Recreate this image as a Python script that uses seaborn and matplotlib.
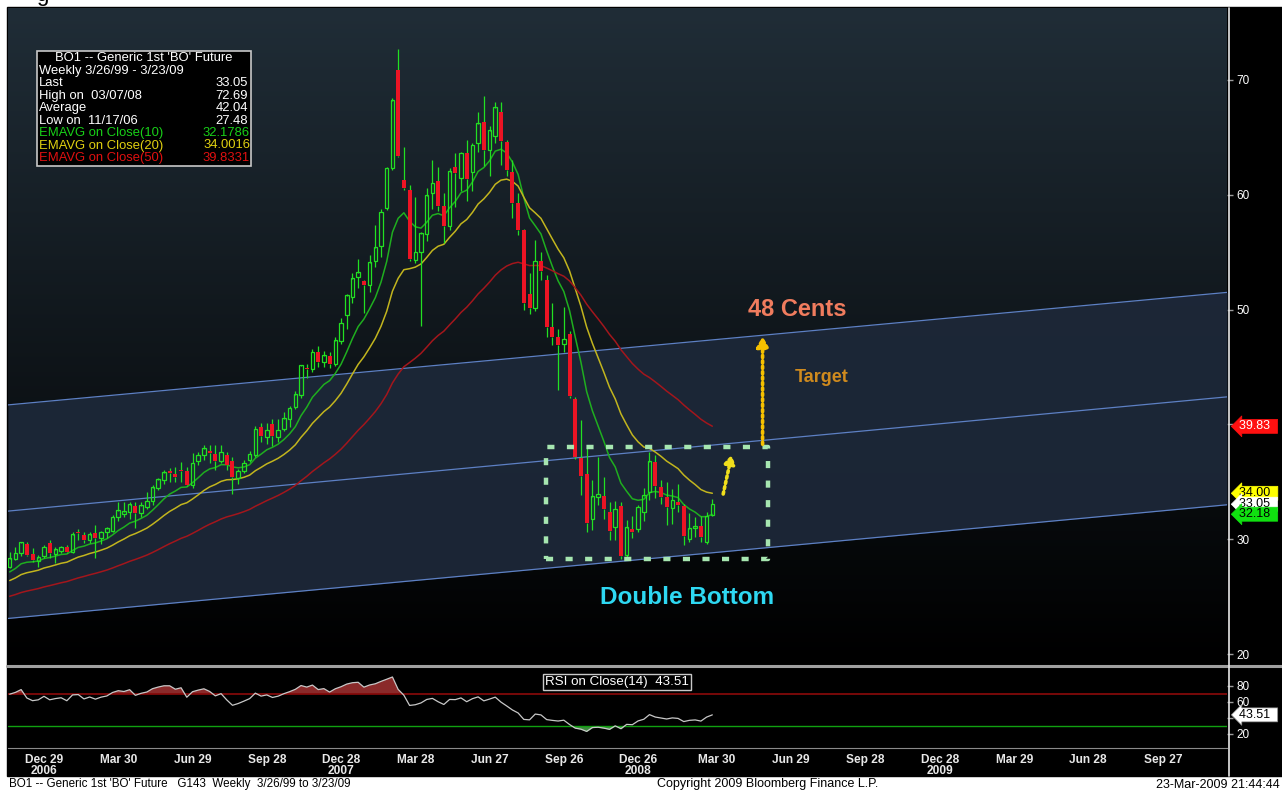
import numpy as np
import pandas as pd
import matplotlib
matplotlib.use("Agg")
import matplotlib.pyplot as plt
import matplotlib.transforms as mtransforms
from matplotlib.patches import Rectangle
from matplotlib.lines import Line2D
from matplotlib.colors import LinearSegmentedColormap
import seaborn as sns

# ---------------- data (weekly BO1 candles) ----------------
opens = [27.6, 28.3, 28.8, 29.6, 28.7, 28.1, 28.5, 29.7, 28.7, 29.0,
         29.3, 28.9, 30.6, 30.4, 29.9, 30.5, 30.1, 30.6, 30.7, 31.9,
         32.2, 32.4, 32.9, 32.3, 32.8, 33.3, 34.5, 35.2, 35.9, 35.7,
         36.05, 35.9, 34.7, 36.8, 37.3, 37.7, 37.4, 36.8, 37.3, 36.8,
         35.3, 35.9, 36.9, 37.3, 39.8, 38.9, 40.0, 38.9, 39.6, 40.5,
         41.5, 42.6, 44.9, 44.8, 46.3, 45.4, 46.0, 45.3, 47.3, 49.5,
         51.1, 52.8, 52.5, 52.1, 54.2, 55.5, 58.85, 62.3, 70.9, 61.3,
         60.4, 54.3, 55.0, 56.6, 60.2, 61.2, 59.0, 57.3, 62.4, 61.5,
         63.6, 62.0, 64.5, 66.3, 63.9, 65.1, 67.2, 64.6, 62.0, 59.3,
         56.9, 51.4, 50.1, 54.2, 52.6, 48.5, 47.6, 47.0, 47.9, 42.2,
         37.1, 35.7, 31.8, 33.7, 33.8, 32.4, 31.1, 32.9, 28.6, 30.9,
         30.9, 32.4, 34.1, 36.75, 34.55, 33.7, 32.7, 33.2, 32.9, 30.0,
         31.0, 31.15, 29.8, 32.1]
highs = [28.9, 29.3, 29.8, 29.8, 29.2, 28.6, 29.5, 29.9, 29.3, 29.4,
         29.5, 30.6, 30.9, 30.6, 30.6, 31.2, 30.7, 31.1, 32.1, 33.2,
         33.2, 33.2, 33.2, 33.2, 34.1, 34.7, 35.3, 36.0, 36.2, 36.3,
         36.75, 36.3, 37.5, 37.6, 38.2, 38.2, 38.2, 38.2, 37.6, 37.2,
         36.1, 36.9, 37.7, 39.9, 40.1, 40.1, 40.5, 40.5, 41.1, 41.6,
         42.9, 45.2, 45.3, 46.6, 46.8, 46.4, 46.3, 47.6, 49.3, 51.4,
         53.2, 54.4, 52.6, 54.8, 57.4, 58.8, 62.4, 68.4, 72.69, 64.2,
         60.85, 59.8, 56.8, 60.6, 63.0, 62.4, 60.2, 62.3, 63.6, 63.7,
         64.8, 64.5, 67.2, 68.6, 66.0, 68.1, 68.1, 64.8, 63.0, 60.2,
         57.0, 53.2, 56.1, 55.0, 53.0, 50.6, 48.3, 50.25, 48.1, 42.4,
         40.4, 38.1, 35.2, 37.2, 35.4, 33.2, 33.3, 33.2, 31.7, 32.0,
         33.0, 34.5, 37.6, 37.3, 35.2, 35.0, 34.4, 34.8, 33.1, 32.3,
         31.9, 32.0, 32.4, 33.5]
lows = [27.48, 28.2, 28.5, 28.5, 28.0, 27.6, 28.4, 28.4, 27.9, 28.8,
        28.8, 28.8, 29.9, 29.7, 29.7, 28.4, 29.6, 30.1, 30.6, 31.6,
        31.9, 31.8, 31.0, 31.9, 32.6, 33.0, 34.3, 34.8, 35.0, 35.0,
        35.0, 34.6, 34.5, 36.5, 36.9, 36.6, 36.0, 36.6, 36.0, 33.9,
        34.8, 35.8, 36.7, 37.2, 38.5, 38.3, 38.1, 38.5, 39.4, 39.8,
        41.3, 42.3, 44.0, 44.6, 45.0, 45.0, 44.9, 45.1, 47.0, 48.3,
        50.6, 51.9, 49.7, 51.5, 53.7, 54.6, 58.7, 62.2, 63.3, 60.4,
        54.2, 54.1, 48.6, 56.0, 58.8, 58.6, 55.8, 56.9, 58.9, 60.3,
        59.5, 60.3, 63.7, 62.5, 61.6, 64.5, 62.6, 61.6, 58.0, 56.5,
        50.0, 49.6, 49.9, 52.6, 47.6, 46.9, 43.0, 46.3, 42.3, 37.0,
        33.85, 30.6, 30.8, 33.0, 31.8, 29.9, 29.9, 28.3, 28.2, 30.1,
        30.6, 31.6, 33.4, 33.6, 33.1, 31.2, 31.3, 32.4, 29.5, 29.8,
        30.2, 29.8, 29.6, 32.0]
closes = [28.3, 28.8, 29.7, 28.6, 28.2, 28.4, 29.3, 28.8, 29.1, 29.3,
          28.9, 30.4, 30.5, 29.9, 30.4, 30.1, 30.6, 30.9, 31.9, 32.5,
          32.4, 33.0, 32.3, 32.9, 33.3, 34.5, 35.2, 35.8, 35.8, 35.4,
          35.95, 34.7, 36.6, 37.3, 37.9, 37.5, 36.8, 37.6, 36.5, 35.4,
          35.9, 36.6, 37.4, 39.6, 39.0, 39.5, 39.0, 39.5, 40.5, 41.4,
          42.6, 45.1, 44.8, 46.3, 45.4, 46.0, 45.3, 47.3, 48.8, 51.2,
          52.7, 53.2, 52.1, 54.1, 55.4, 58.5, 62.3, 68.2, 63.4, 60.6,
          54.4, 55.0, 56.6, 59.9, 61.0, 59.0, 57.3, 62.0, 61.9, 63.6,
          61.4, 64.3, 66.2, 63.9, 65.6, 67.6, 64.7, 62.2, 59.3, 56.9,
          50.6, 50.1, 54.2, 53.4, 48.5, 47.6, 46.9, 47.4, 42.5, 37.2,
          35.5, 31.4, 33.7, 33.9, 32.6, 30.7, 32.6, 28.5, 31.0, 30.6,
          32.8, 33.8, 36.75, 34.6, 33.7, 32.8, 33.4, 33.0, 30.3, 30.9,
          31.1, 30.2, 32.0, 33.05]

# indicator starting levels at the left edge of the chart
ema_spans = [10, 20, 50]
ema_start = [26.9, 26.2, 24.9]
rsi_start_gain = 0.34
rsi_start_loss = 0.15

# straight channel lines (two anchor points each)
channel_x = [-0.3, 213.1]
channel_upper = [41.7, 51.5]
channel_mid = [32.45, 42.4]
channel_lower = [23.1, 33.0]

# double-bottom box and target
box_weeks = [93.8, 132.8]
box_prices = [28.28, 38.03]
target_price = 47.9

x_tick_pos = [6, 19, 32, 45, 58, 71, 84, 97, 110, 123.7, 136.7, 149.8, 162.9, 175.9, 188.8, 201.9]
x_tick_labels = ["Dec 29\n2006", "Mar 30", "Jun 29", "Sep 28", "Dec 28\n2007", "Mar 28",
                 "Jun 27", "Sep 26", "Dec 26\n2008", "Mar 30", "Jun 29", "Sep 28",
                 "Dec 28\n2009", "Mar 29", "Jun 28", "Sep 27"]

legend_rows = [("Last", "33.05"), ("High on  03/07/08", "72.69"),
               ("Average", "42.04"), ("Low on  11/17/06", "27.48")]
ema_labels = ["EMAVG on Close(10)", "EMAVG on Close(20)", "EMAVG on Close(50)"]
ema_values = ["32.1786", "34.0016", "39.8331"]

# ---------------- derived indicators ----------------
df = pd.DataFrame({"week": np.arange(len(closes)), "open": opens, "high": highs,
                   "low": lows, "close": closes})

for span, start in zip(ema_spans, ema_start):
    a = 2.0 / (span + 1)
    prev = start
    vals = []
    for c in df["close"]:
        prev = a * c + (1 - a) * prev
        vals.append(prev)
    df[f"ema{span}"] = vals

g, l = rsi_start_gain, rsi_start_loss
rsi = []
prev_c = df["close"].iloc[0]
for i, c in enumerate(df["close"]):
    if i > 0:
        ch = c - prev_c
        g = (g * 13 + max(ch, 0)) / 14
        l = (l * 13 + max(-ch, 0)) / 14
    prev_c = c
    rsi.append(100 - 100 / (1 + g / l))
df["rsi"] = rsi

# ---------------- figure ----------------
W, H = 1282, 791
sns.set_style("dark")
plt.rcParams["font.family"] = ["Liberation Sans", "DejaVu Sans"]

fig = plt.figure(figsize=(W / 100, H / 100), dpi=100, facecolor="white")


def fx(px):
    return px / W


def fy(py):
    return 1 - py / H


# black terminal panel
fig.add_artist(Rectangle((fx(7), fy(776)), 1 - fx(7), (776 - 7) / H,
                         transform=fig.transFigure, color="black", zorder=-10))
fig.text(fx(36), fy(1), "g", fontsize=16, va="baseline", color="black")

ax = fig.add_axes([fx(8), fy(663), (1227 - 8) / W, (663 - 8) / H])
rx = fig.add_axes([fx(8), fy(748), (1227 - 8) / W, (748 - 668) / H], sharex=ax)

XMIN, XMAX = -0.3, 213.1
YMIN, YMAX = 19.22, 76.27

# background gradient
cmap = LinearSegmentedColormap.from_list("bg", ["#000000", "#202d37"])
grad = np.linspace(0, 1, 256).reshape(-1, 1)
ax.imshow(grad, extent=[0, 1, 0, 1], transform=ax.transAxes, aspect="auto",
          cmap=cmap, origin="lower", zorder=0)
ax.set_facecolor("black")

# channel
ax.fill_between(channel_x, channel_lower, channel_upper, color="#1d2839",
                alpha=0.93, lw=0, zorder=1)
for arr in (channel_upper, channel_mid, channel_lower):
    ax.plot(channel_x, arr, color="#5d80c4", lw=0.9, zorder=2)

# EMAs
ema_colors = ["#1fae1f", "#c2b51e", "#a3161c"]
for span, col in zip(ema_spans, ema_colors):
    sns.lineplot(data=df, x="week", y=f"ema{span}", ax=ax, color=col, lw=1.1, zorder=3)

# candles
up = df["close"] >= df["open"]
body_top = np.maximum(df["open"], df["close"])
body_bot = np.minimum(df["open"], df["close"])
green = "#22e022"
red = "#ec1424"
ax.vlines(df["week"], body_top, df["high"], color=green, lw=0.9, zorder=4)
ax.vlines(df["week"], df["low"], body_bot, color=green, lw=0.9, zorder=4)
ax.bar(df["week"][~up], (body_top - body_bot)[~up], bottom=body_bot[~up], width=0.7,
       color=red, lw=0, zorder=5)
ax.bar(df["week"][up], (body_top - body_bot)[up] + 0.04, bottom=body_bot[up], width=0.62,
       facecolor="none", edgecolor=green, lw=0.9, zorder=5)

# double bottom box
bx0, bx1 = box_weeks
by0, by1 = box_prices
ax.plot([bx0, bx1, bx1, bx0, bx0], [by0, by0, by1, by1, by0], color="#a6e6b0",
        lw=3.2, ls=(0, (1.6, 2.8)), zorder=6, solid_capstyle="butt")
# target arrow
ax.annotate("", xy=(131.8, target_price), xytext=(131.8, by1),
            arrowprops=dict(arrowstyle="-|>,head_width=0.35,head_length=0.6",
                            color="#f5c000", lw=2.6, ls=(0, (0.6, 0.9))), zorder=6)
ax.annotate("", xy=(126.5, 37.6), xytext=(124.8, 33.7),
            arrowprops=dict(arrowstyle="-|>,head_width=0.3,head_length=0.5",
                            color="#f0de1c", lw=2.6, ls=(0, (0.6, 0.9))), zorder=6)

ax.text(137.9, 50.0, "48 Cents", color="#f07c5e", fontsize=17, fontweight="bold",
        ha="center", va="center", zorder=7)
ax.text(142.2, 44.05, "Target", color="#cf8a1e", fontsize=13, fontweight="bold",
        ha="center", va="center", zorder=7)
ax.text(118.6, 24.9, "Double Bottom", color="#2ed8f2", fontsize=17.5, fontweight="bold",
        ha="center", va="center", zorder=7)

ax.set_xlim(XMIN, XMAX)
ax.set_ylim(YMIN, YMAX)
ax.set_xlabel("")
ax.set_ylabel("")
ax.grid(False)
for s in ax.spines.values():
    s.set_visible(False)
ax.yaxis.tick_right()
ax.set_yticks([20, 30, 40, 50, 60, 70])
ax.set_yticklabels(["20", "30", "", "50", "60", "70"])
ax.tick_params(axis="y", colors="#9a9a9a", labelcolor="white", labelsize=8.5,
               length=4, width=1, direction="out", pad=3)
ax.tick_params(axis="x", bottom=False, labelbottom=False)

# RSI panel
rx.set_facecolor("black")
rsi_arr = df["rsi"].to_numpy()
wk = df["week"].to_numpy()
rx.fill_between(wk, 70, rsi_arr, where=rsi_arr > 70, interpolate=True,
                color="#8a2a2a", lw=0, zorder=1)
rx.fill_between(wk, 30, rsi_arr, where=rsi_arr < 30, interpolate=True,
                color="#3e8a3e", lw=0, zorder=1)
rx.axhline(70, color="#8c0a0a", lw=1.2, zorder=2)
rx.axhline(30, color="#10a010", lw=1.0, zorder=2)
sns.lineplot(data=df, x="week", y="rsi", ax=rx, color="#c8c8c8", lw=0.9, zorder=3)
rx.set_ylim(2.1, 102.1)
rx.set_xlim(XMIN, XMAX)
rx.set_xlabel("")
rx.set_ylabel("")
rx.grid(False)
for k, s in rx.spines.items():
    s.set_visible(k == "bottom")
rx.spines["bottom"].set_color("#8a8a8a")
rx.yaxis.tick_right()
rx.set_yticks([20, 40, 60, 80])
rx.set_yticklabels(["20", "", "60", "80"])
rx.tick_params(axis="y", colors="#9a9a9a", labelcolor="white", labelsize=8.5,
               length=4, width=1, direction="out", pad=3)
rx.set_xticks(x_tick_pos)
rx.set_xticklabels(x_tick_labels, fontweight="bold", linespacing=0.92)
minor = []
for p in x_tick_pos:
    minor += [p + 13 / 3, p + 26 / 3]
rx.set_xticks(minor, minor=True)
rx.tick_params(axis="x", which="both", colors="#d8d8d8", labelcolor="#e8e8e8",
               labelsize=8.6, length=3, width=1, direction="out", pad=1)

# separator lines
fig.add_artist(Line2D([fx(7), 1], [fy(665.5), fy(665.5)], transform=fig.transFigure,
                      color="#a0a0a0", lw=2.2, zorder=8))
fig.add_artist(Line2D([fx(1228.5), fx(1228.5)], [fy(8), fy(776)], transform=fig.transFigure,
                      color="#e8e8e8", lw=1.2, zorder=8))

# legend box
fig.add_artist(Rectangle((fx(37), fy(166)), (251 - 37) / W, (166 - 51) / H,
                         transform=fig.transFigure, facecolor="black",
                         edgecolor="#c8c8c8", lw=1.2, zorder=9))
lfs = 9.4
fig.text(fx(144), fy(58), "BO1 -- Generic 1st 'BO' Future", color="white", fontsize=lfs,
         ha="center", va="center", zorder=10)
fig.text(fx(39), fy(71), "Weekly 3/26/99 - 3/23/09", color="white", fontsize=lfs,
         ha="left", va="center", zorder=10)
yy = 83.5
for lab, val in legend_rows:
    fig.text(fx(39), fy(yy), lab, color="white", fontsize=lfs, ha="left", va="center", zorder=10)
    fig.text(fx(248), fy(yy), val, color="white", fontsize=lfs, ha="right", va="center", zorder=10)
    yy += 12.4
leg_cols = ["#18d018", "#e0d010", "#e01010"]
for lab, val, col in zip(ema_labels, ema_values, leg_cols):
    fig.text(fx(39), fy(yy), lab, color=col, fontsize=lfs, ha="left", va="center", zorder=10)
    fig.text(fx(250), fy(yy), val, color=col, fontsize=lfs, ha="right", va="center", zorder=10)
    yy += 12.4

# value tags on right axis
trans_main = mtransforms.blended_transform_factory(ax.transAxes, ax.transData)
last_vals = [(float(ema_values[2]), "39.83", "#ff1010", "white"),
             (float(ema_values[1]), "34.00", "#ffff00", "black"),
             (closes[-1], "33.05", "white", "black"),
             (float(ema_values[0]), "32.18", "#10e010", "black")]
for v, s, fc, tc in last_vals:
    ax.text(1.0095, v, s + "  ", transform=trans_main, fontsize=9, color=tc, ha="left",
            va="center", zorder=12, clip_on=False,
            bbox=dict(boxstyle="larrow,pad=0.08", fc=fc, ec=fc, lw=0.5))
trans_rsi = mtransforms.blended_transform_factory(rx.transAxes, rx.transData)
rx.text(1.0095, 43.51, "43.51  ", transform=trans_rsi, fontsize=9, color="black", ha="left",
        va="center", zorder=12, clip_on=False,
        bbox=dict(boxstyle="larrow,pad=0.08", fc="white", ec="#888888", lw=0.5))

fig.text(fx(617), fy(682), "RSI on Close(14)  43.51", color="white", fontsize=9.6,
         ha="center", va="center", zorder=10,
         bbox=dict(boxstyle="square,pad=0.15", fc="black", ec="#c8c8c8", lw=1))

# footer
fig.text(fx(9), fy(784.5), "BO1 -- Generic 1st 'BO' Future   G143  Weekly  3/26/99 to 3/23/09",
         color="black", fontsize=8.4, ha="left", va="center")
fig.text(fx(768), fy(784.5), "Copyright 2009 Bloomberg Finance L.P.", color="black",
         fontsize=9, ha="center", va="center")
fig.text(fx(1280), fy(784.5), "23-Mar-2009 21:44:44", color="black", fontsize=9,
         ha="right", va="center")

fig.savefig("out.png", dpi=100, facecolor="white")
